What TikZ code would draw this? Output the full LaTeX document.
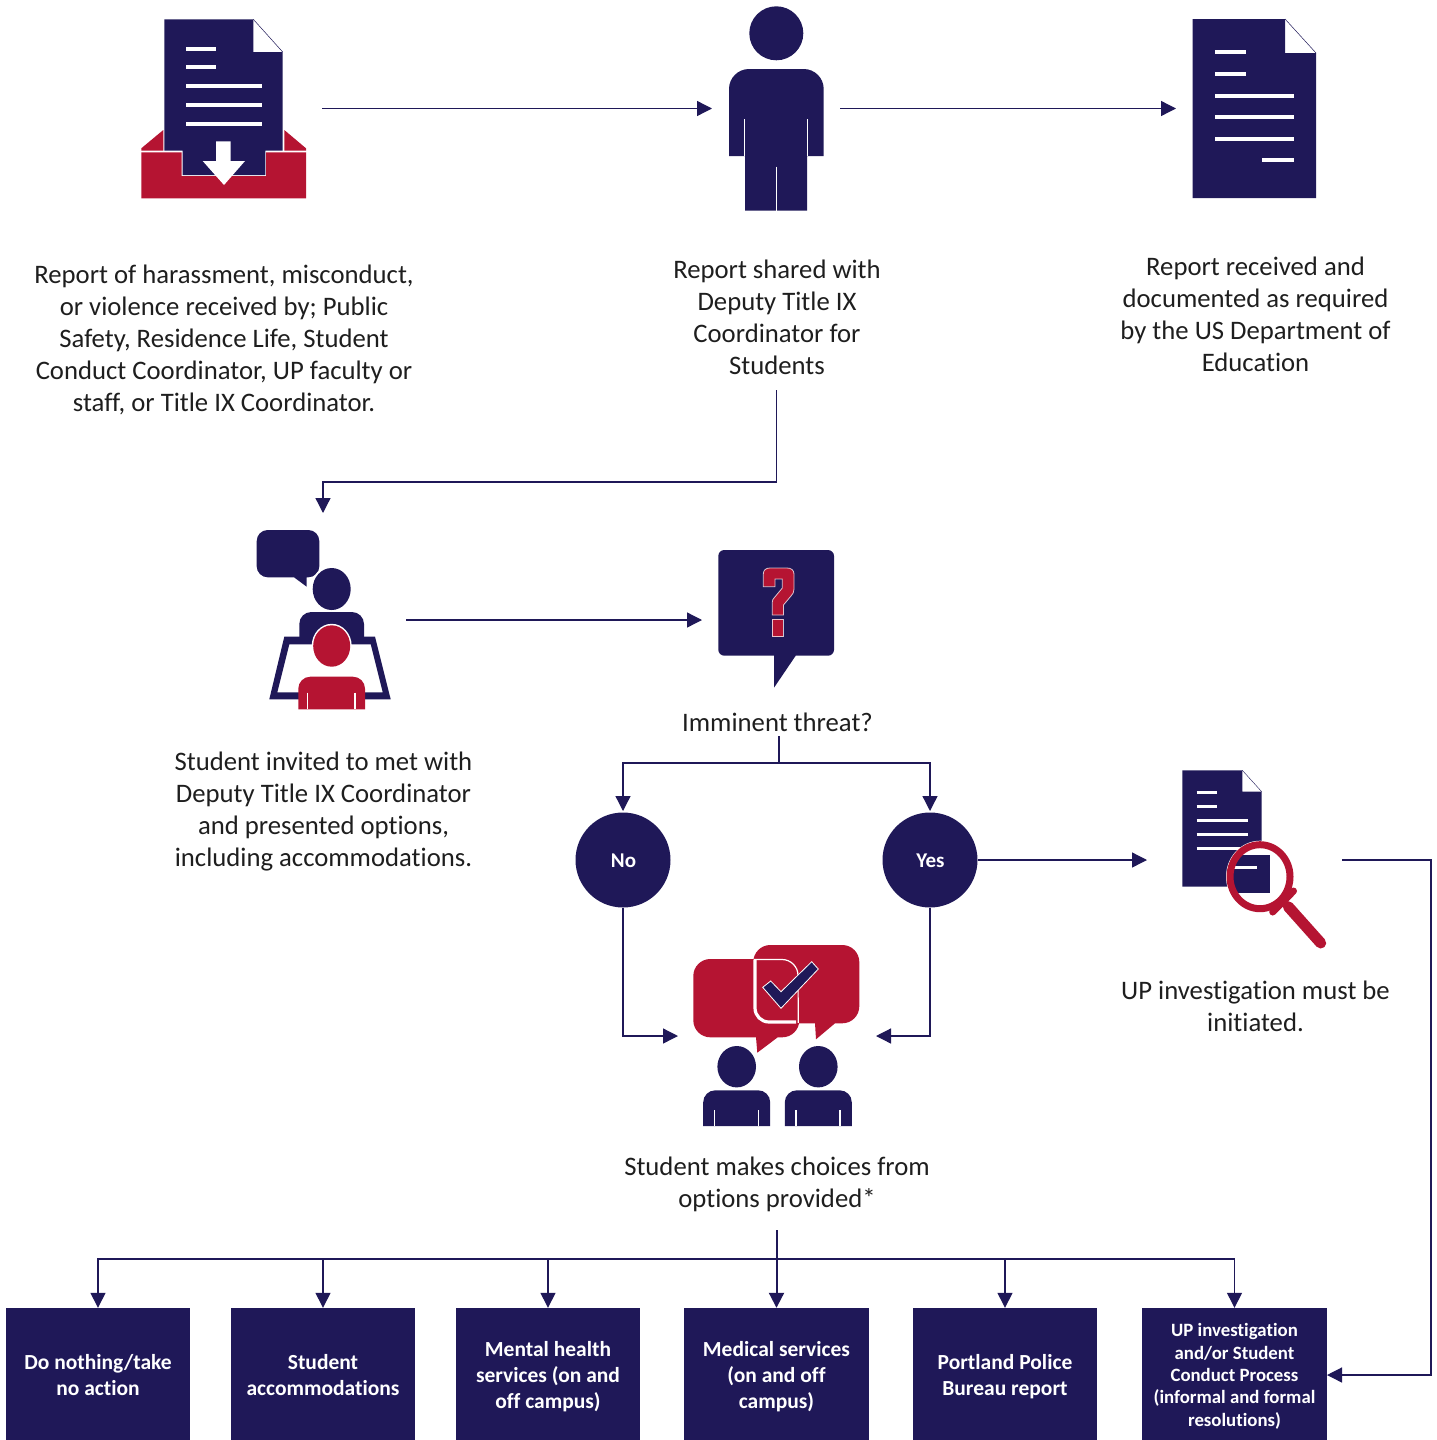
\documentclass[tikz,border=0pt]{standalone}
\usepackage{fontspec}
\setmainfont{Carlito}[RawFeature={-liga}]
\usetikzlibrary{arrows.meta,calc}
\definecolor{navy}{HTML}{1F1858}
\definecolor{upred}{HTML}{B51432}
\definecolor{txt}{HTML}{1E1E1E}
\tikzset{
 flow/.style={draw=navy,line width=1.3pt,-{Triangle[length=15pt,width=15pt]}},
 plain/.style={draw=navy,line width=1.3pt},
 caption/.style={align=center,text=txt,font=\fontsize{26.7}{32}\selectfont,inner sep=0pt},
 optbox/.style={fill=navy,text=white,align=center,inner sep=0pt,minimum height=138pt,
   font=\bfseries\fontsize{21.5}{26}\selectfont},
 choice/.style={circle,fill=navy,text=white,inner sep=0pt,minimum size=95pt,text height=15.5pt,text depth=0pt,font=\bfseries\fontsize{21}{26}\selectfont},
 nv/.style={fill=navy},
 rd/.style={fill=upred},
 wline/.style={draw=white,line width=4pt},
}
\begin{document}
\begin{tikzpicture}[x=1pt,y=-1pt]
\useasboundingbox (0,0) rectangle (1437,1440);
\begin{scope}
\clip (0,0) rectangle (1437,1440);
% ---------- inbox icon
\fill[rd] (141.3,148.3) -- (163.3,130) -- (163.3,150.7) -- (141.3,150.7) -- cycle;
\fill[rd] (284.3,130) -- (306,148.3) -- (306,150.7) -- (284.3,150.7) -- cycle;
\fill[rd] (141.3,152.3) -- (181.7,152.3) -- (181.7,176) -- (266,176) -- (266,152.3) -- (306,152.3) -- (306,198.3) -- (141.3,198.3) -- cycle;
\fill[nv] (164.3,19.3) -- (253.3,19.3) -- (253.3,52) -- (282.7,52) -- (282.7,150.7) -- (265.3,150.7) -- (265.3,175) -- (182.7,175) -- (182.7,150.7) -- (164.3,150.7) -- cycle;
\draw[navy,line width=.5pt] (253.3,19.3) -- (282.7,52);
\foreach \y/\xb in {48.7/216,67.3/216,86.3/261.7,105.3/261.7,124/261.7}
  \draw[wline] (186,\y) -- (\xb,\y);
\fill[white] (216,141.3) -- (230.7,141.3) -- (230.7,161) -- (245,161) -- (224,185) -- (202.7,161) -- (216,161) -- cycle;
% ---------- person icon
\fill[nv] (776.3,33.3) circle (27);
\fill[nv] (729,156) -- (729,89) arc[start angle=180,end angle=270,radius=20] -- (803.7,69) arc[start angle=270,end angle=360,radius=20] -- (823.7,156) -- (807,156) -- (807,210.7) -- (745,210.7) -- (745,156) -- cycle;
\draw[white,line width=1pt] (744.5,119) -- (744.5,156) (807.5,119) -- (807.5,156) (776,166.7) -- (776,210.7);
% ---------- document icon
\fill[nv] (1192.5,19) -- (1285,19) -- (1285,53) -- (1316,53) -- (1316,198) -- (1192.5,198) -- cycle;
\draw[navy,line width=.5pt] (1285,19) -- (1316,53);
\foreach \y/\xa/\xb in {52/1215/1246,74/1215/1246,96/1215/1294,117/1215/1294,139/1215/1294,160/1262/1294}
  \draw[wline] (\xa,\y) -- (\xb,\y);
% ---------- meeting icon
\fill[nv] (256.7,541) arc[start angle=180,end angle=270,radius=11] -- (308.3,530) arc[start angle=270,end angle=360,radius=11] -- (319.3,566.3) arc[start angle=0,end angle=90,radius=11] -- (306.7,577.3) -- (306.7,586.7) -- (294,577.3) -- (267.7,577.3) arc[start angle=90,end angle=180,radius=11] -- cycle;
\fill[white] (331.7,589) ellipse[x radius=21,y radius=23];
\fill[nv] (331.7,589) ellipse[x radius=19,y radius=21];
\fill[nv] (299.3,640) -- (299.3,624) arc[start angle=180,end angle=270,radius=12] -- (352,612) arc[start angle=270,end angle=360,radius=12] -- (364,640) -- cycle;
\fill[nv,even odd rule] (284.3,636.7) -- (375,636.7) -- (390.7,699.3) -- (269.3,699.3) -- cycle (289.3,644.3) -- (370.7,644.3) -- (382.7,692.3) -- (277.3,692.3) -- cycle;
\fill[nv] (299.3,636.7) rectangle (364,644.3);
\fill[white] (331.7,646) ellipse[x radius=20,y radius=22.2];
\fill[rd] (331.7,646) ellipse[x radius=18.5,y radius=20.7];
\fill[rd] (298.3,709.3) -- (298.3,688.7) arc[start angle=180,end angle=270,radius=12] -- (353,676.7) arc[start angle=270,end angle=360,radius=12] -- (365,709.3) -- cycle;
\draw[white,line width=1.2pt] (307.7,692.7) -- (307.7,709.3) (355,692.7) -- (355,709.3);
% ---------- question icon
\fill[nv] (718.3,556) arc[start angle=180,end angle=270,radius=6] -- (828,550) arc[start angle=270,end angle=360,radius=6] -- (834,649.7) arc[start angle=0,end angle=90,radius=6] -- (795.7,655.7) -- (774,687.7) -- (774,655.7) -- (724.3,655.7) arc[start angle=90,end angle=180,radius=6] -- cycle;
\fill[upred,draw=white,draw opacity=.75,line width=.8pt] (763.3,586.7) -- (763.3,574) .. controls (763.3,570) and (766,568) .. (770,568) -- (787,568) .. controls (791,568) and (794,570) .. (794,574) -- (794,589) .. controls (794,592) and (793,594) .. (791,596) -- (783.5,605) -- (783.5,615) -- (772.3,615) -- (772.3,602) .. controls (772.3,600) and (773,599) .. (774,598) -- (782.3,588) -- (782.3,579) -- (775,579) -- (775,586.7) -- cycle;
\fill[upred,draw=white,draw opacity=.75,line width=.8pt] (772,619.3) rectangle (783.3,636.7);
% ---------- magnifier icon
\fill[nv] (1182.3,770.3) -- (1242.3,770.3) -- (1242.3,791.7) -- (1261.7,791.7) -- (1261.7,886.7) -- (1182.3,886.7) -- cycle;
\draw[navy,line width=.4pt] (1242.3,770.3) -- (1261.7,791.7);
\foreach \y/\xb in {792.3/1216.7,806.3/1216.7,820.3/1247.7,834.3/1247.7,848.3/1240}
  \draw[white,line width=2.6pt] (1196.7,\y) -- (\xb,\y);
\fill[white] (1260,876.7) ellipse[x radius=34,y radius=36];
\begin{scope}
\clip (1260,876.7) ellipse[x radius=30,y radius=32];
\fill[nv] (1225,855) rectangle (1270,892.7);
\draw[white,line width=2.8pt] (1228,867.3) -- (1256.7,867.3);
\end{scope}
\draw[upred,line width=7pt] (1260,876.7) ellipse[x radius=30,y radius=32];
\draw[upred,line width=7pt,line cap=round] (1272.7,912) -- (1293.5,891);
\draw[upred,line width=11pt,line cap=round] (1288.3,906.7) -- (1320.7,943);
% ---------- chat choices icon
\fill[rd] (753.3,962) arc[start angle=180,end angle=270,radius=17] -- (842.3,945) arc[start angle=270,end angle=360,radius=17] -- (859.3,1006.3) arc[start angle=0,end angle=90,radius=17] -- (835,1023.3) -- (816,1039.3) -- (815,1023.3) -- (770.3,1023.3) arc[start angle=90,end angle=180,radius=17] -- cycle;
\fill[rd] (693.3,976) arc[start angle=180,end angle=270,radius=17] -- (782.3,959) arc[start angle=270,end angle=360,radius=17] -- (799.3,1020.3) arc[start angle=0,end angle=90,radius=17] -- (777.7,1037.3) -- (757.3,1052.7) -- (756,1037.3) -- (710.3,1037.3) arc[start angle=90,end angle=180,radius=17] -- cycle;
\draw[white,line width=1.2pt] (753.8,959.5) -- (782,959.5) arc[start angle=270,end angle=360,radius=16] -- (798.3,1022.8);
\draw[white,line width=3.2pt] (755,959.5) -- (755,1008) arc[start angle=180,end angle=90,radius=14] -- (796,1022);
\fill[navy,draw=white,line width=.8pt] (762.7,987.3) -- (770.7,981) -- (781,991.7) -- (811.7,961.7) -- (818.3,969) -- (781,1008.3) -- cycle;
\foreach \cx/\ln/\rn in {736.7/714.3/758.3,818.3/796/840}{
 \fill[nv] (\cx,1066.7) ellipse[x radius=19.3,y radius=20.7];
 \fill[nv] (\cx-33.5,1126) -- (\cx-33.5,1102.3) arc[start angle=180,end angle=270,radius=12] -- (\cx+21.5,1090.3) arc[start angle=270,end angle=360,radius=12] -- (\cx+33.5,1126) -- cycle;
 \draw[white,line width=1.2pt] (\ln,1110) -- (\ln,1126) (\rn,1110) -- (\rn,1126);
}
% ---------- captions
\node[caption] (capA) at (224,341.3) {\strut Report of harassment, misconduct,\\or violence received by; Public\\Safety, Residence Life, Student\\Conduct Coordinator, UP faculty or\\staff, or Title IX Coordinator.\strut};
\node[caption] (capB) at (777,320.3) {\strut Report shared with\\Deputy Title IX\\Coordinator for\\Students\strut};
\node[caption] (capC) at (1255.5,317.3) {\strut Report received and\\documented as required\\by the US Department of\\Education\strut};
\node[caption] (capD) at (323.5,812.3) {\strut Student invited to met with\\Deputy Title IX Coordinator\\and presented options,\\including accommodations.\strut};
\node[caption] (capE) at (777.5,725.3) {\strut Imminent threat?};
\node[caption] (capF) at (1255.5,1009.3) {\strut UP investigation must be\\initiated.\strut};
\node[caption] (capG) at (777,1185.3) {\strut Student makes choices from\\options provided*\strut};
% ---------- decision nodes
\node[choice] (no) at (623,860) {\hspace{1pt}No};
\node[choice] (yes) at (930,860) {\hspace{1pt}Yes};
% ---------- option boxes
\node[optbox,minimum width=184.5pt] (b1) at (98,1377) {\strut Do nothing/take\\no action\strut};
\node[optbox,minimum width=184.5pt] (b2) at (323,1377) {\strut Student\\accommodations\strut};
\node[optbox,minimum width=184.5pt] (b3) at (548,1377) {\strut Mental health\\services (on and\\off campus)\strut};
\node[optbox,minimum width=184.5pt] (b4) at (776.5,1377) {\strut Medical services\\(on and off\\campus)\strut};
\node[optbox,minimum width=184.5pt] (b5) at (1005,1377) {\strut Portland Police\\Bureau report\strut};
\node[optbox,minimum width=184.5pt,font=\bfseries\fontsize{18.8}{22.4}\selectfont] (b6) at (1234.5,1377) {\strut UP investigation\\and/or Student\\Conduct Process\\(informal and formal\\resolutions)\strut};
% ---------- connector anchors
\coordinate (inboxE) at (322,108.5);
\coordinate (personW) at (712,108.5);
\coordinate (personE) at (840,108.5);
\coordinate (docW) at (1176,108.5);
\coordinate (capBs) at (776.5,390);
\coordinate (meetBend) at (323,482);
\coordinate (meetN) at (323,513);
\coordinate (meetE) at (406,620);
\coordinate (askW) at (702,620);
\coordinate (capEs) at (779,736);
\coordinate (fork) at (779,763);
\coordinate (noN) at (623,811);
\coordinate (yesN) at (930,811);
\coordinate (magW) at (1147,860);
\coordinate (magE) at (1342,860);
\coordinate (chatW) at (678,1036);
\coordinate (chatE) at (876,1036);
\coordinate (capGs) at (776.5,1230);
\coordinate (bus) at (776.5,1259);
\coordinate (rightTurn) at (1431,1375);
\coordinate (upEntry) at (1327,1375);
% ---------- connectors
\draw[flow] (inboxE) -- (personW);
\draw[flow] (personE) -- (docW);
\draw[flow] (capBs) |- (meetBend) -- (meetN);
\draw[flow] (meetE) -- (askW);
\draw[plain] (capEs) -- (fork);
\draw[flow] (fork) -| (noN);
\draw[flow] (fork) -| (yesN);
\draw[flow] (yes.east) -- (magW);
\draw[flow] (no.south) |- (chatW);
\draw[flow] (yes.south) |- (chatE);
\draw[flow] (magE) -| (rightTurn) -- (upEntry);
\draw[flow,line width=2pt] (capGs) -- (b4.north);
\draw[flow] (bus) -| (b1.north);
\draw[flow] (bus) -| (b2.north);
\draw[flow] (bus) -| (b3.north);
\draw[flow] (bus) -| (b5.north);
\draw[flow] (bus) -| (b6.north);
\end{scope}
\end{tikzpicture}
\end{document}
